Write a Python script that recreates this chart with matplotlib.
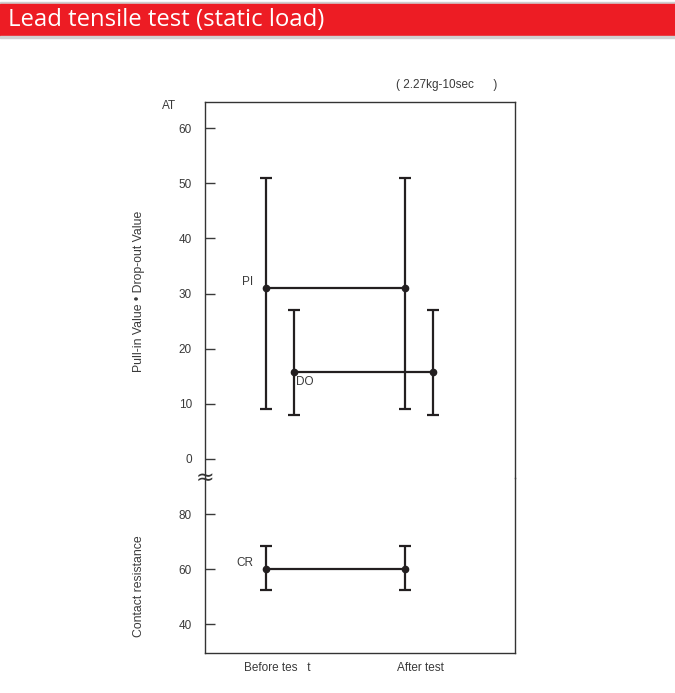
import matplotlib.pyplot as plt
from matplotlib.patches import Rectangle

plt.rcParams['font.family'] = ['Liberation Sans', 'DejaVu Sans']

# data
stages = ['Before tes   t', 'After test']
pi_mid = [31, 31]          # pull-in value (AT)
pi_low = [9, 9]
pi_high = [51, 51]
do_mid = [15.7, 15.7]      # drop-out value (AT)
do_low = [8, 8]
do_high = [27, 27]
cr_mid = [60, 60]          # contact resistance
cr_low = [52.5, 52.5]
cr_high = [68.5, 68.5]

ink = '#231f20'
txt = '#3a3a3a'
W, H = 675, 693

fig = plt.figure(figsize=(W / 100, H / 100), dpi=100)

def fx(px):
    return px / W

def fy(py):
    return 1 - py / H

# red title banner
fig.patches.append(Rectangle((0, fy(3.5)), 1, 1.2 / H, transform=fig.transFigure,
                             color='#cfcfcf', zorder=0))
fig.patches.append(Rectangle((0, fy(36)), 1, 32 / H, transform=fig.transFigure,
                             color='#ed1c24', zorder=1))
fig.patches.append(Rectangle((0, fy(38)), 1, 2 / H, transform=fig.transFigure,
                             color='#d0d0d0', zorder=1))
fig.text(fx(8), fy(20.5), 'Lead tensile test (static load)', color='white',
         fontsize=17.2, family=['Open Sans', 'DejaVu Sans'], va='center', ha='left',
         zorder=2)

left, right = 204.5, 515
top, brk, bottom = 102, 478, 652.7
ax1 = fig.add_axes([fx(left), fy(brk), (right - left) / W, (brk - top) / H])
ax2 = fig.add_axes([fx(left), fy(bottom), (right - left) / W, (bottom - brk) / H])

x = [0, 1]
dx = 0.2
xlim = (-0.438, 1.785)

def err(mid, lo, hi):
    return [[m - l for m, l in zip(mid, lo)], [h - m for m, h in zip(mid, hi)]]

kw = dict(color=ink, lw=1.6, marker='o', ms=4.5, capsize=4, capthick=1.6,
          elinewidth=1.6)
ax1.errorbar(x, pi_mid, yerr=err(pi_mid, pi_low, pi_high), **kw)
ax1.errorbar([v + dx for v in x], do_mid, yerr=err(do_mid, do_low, do_high), **kw)
ax2.errorbar(x, cr_mid, yerr=err(cr_mid, cr_low, cr_high), **kw)

ax1.text(x[0] - 0.09, pi_mid[0], 'PI', fontsize=8.5, color=txt,
         ha='right', va='bottom')
ax1.text(x[0] + dx + 0.02, do_mid[0] - 0.6, 'DO', fontsize=8.5, color=txt,
         ha='left', va='top')
ax2.text(x[0] - 0.09, cr_mid[0], 'CR', fontsize=8.5, color=txt,
         ha='right', va='bottom')

ax1.set_xlim(*xlim)
ax2.set_xlim(*xlim)
ax1.set_ylim(-3.47, 64.77)
ax2.set_ylim(29.67, 93.2)

ax1.set_yticks(range(0, 61, 10))
ax2.set_yticks([40, 60, 80])
ax1.set_xticks([])
ax2.set_xticks([x[0] + 0.08, x[1] + 0.11])
ax2.set_xticklabels(stages)

for ax in (ax1, ax2):
    ax.patch.set_alpha(0)
    for s in ax.spines.values():
        s.set_color('#333333')
        s.set_linewidth(1)
    ax.tick_params(axis='y', direction='in', length=7.5, width=1, pad=9,
                   labelsize=8.5, colors=txt)
    ax.tick_params(axis='x', length=0, pad=7, labelsize=8.5, colors=txt)
ax1.spines['bottom'].set_visible(False)
ax2.spines['top'].set_visible(False)

# axis break mark and labels
fig.text(fx(left), fy(brk), '≈', fontsize=16, color='#333333', ha='center',
         va='center', family='DejaVu Sans')
fig.text(fx(169), fy(106), 'AT', fontsize=8.5, color=txt, ha='center',
         va='center')
fig.text(fx(447), fy(85), '( 2.27kg-10sec      )', fontsize=8.5, color=txt,
         ha='center', va='center')
fig.text(fx(139), fy(291), 'Pull-in Value • Drop-out Value', fontsize=8.8,
         color=txt, rotation=90, ha='center', va='center')
fig.text(fx(139), fy(586), 'Contact resistance', fontsize=8.8, color=txt,
         rotation=90, ha='center', va='center')

fig.savefig('out.png', dpi=100)
